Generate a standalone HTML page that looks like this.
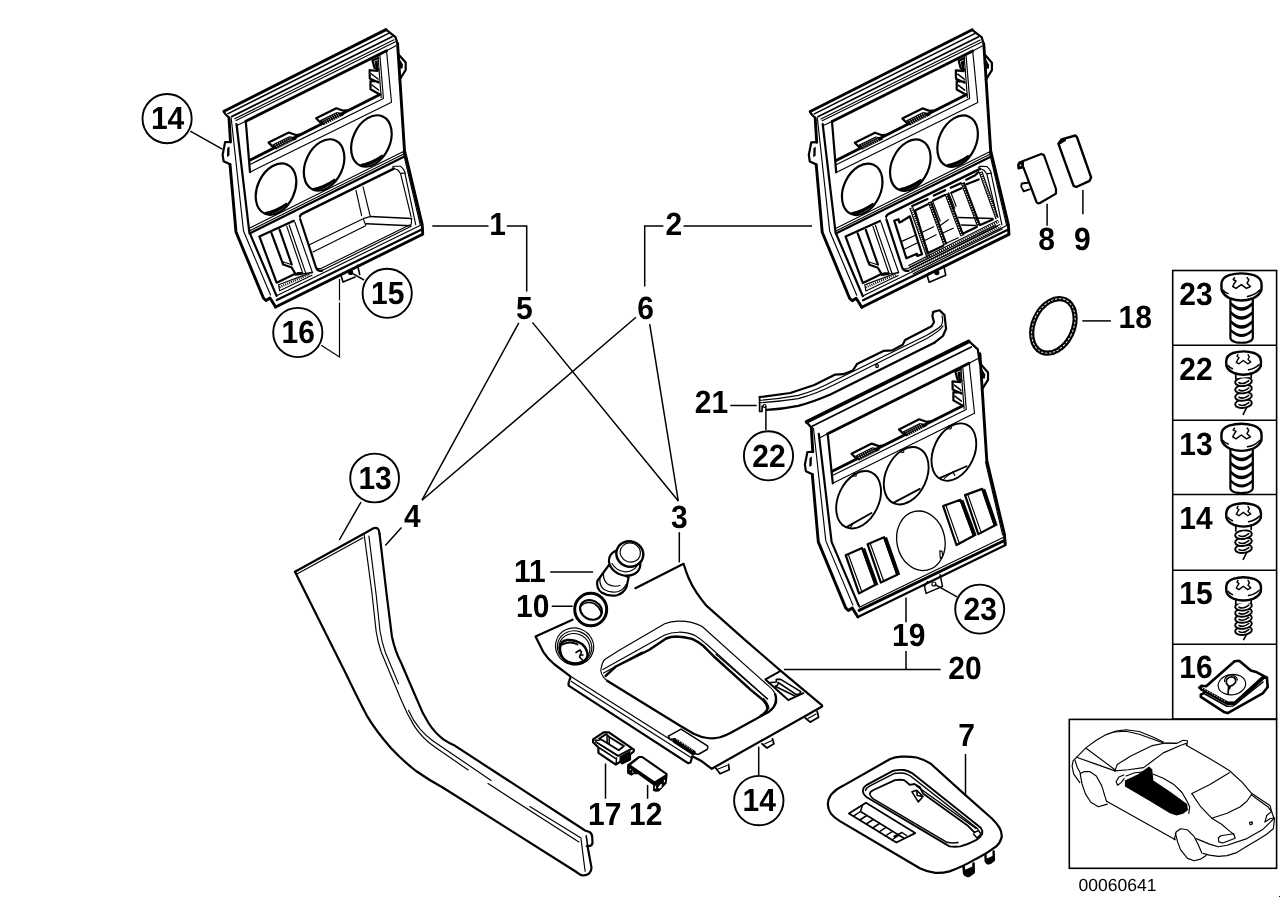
<!DOCTYPE html>
<html>
<head>
<meta charset="utf-8">
<title>Parts diagram</title>
<style>
html,body{margin:0;padding:0;background:#fff;}
body{width:1288px;height:910px;overflow:hidden;font-family:"Liberation Sans",sans-serif;}
svg{display:block;position:absolute;left:0;top:0;}
.k{fill:none;stroke:#000;stroke-width:2.2;stroke-linejoin:round;stroke-linecap:round;}
.h{fill:none;stroke:#000;stroke-width:2.9;stroke-linejoin:round;stroke-linecap:round;}
.n{fill:none;stroke:#000;stroke-width:1.15;stroke-linejoin:round;stroke-linecap:round;}
.m{fill:none;stroke:#000;stroke-width:1.5;stroke-linejoin:round;stroke-linecap:round;}
.w{fill:#fff;}
.b{fill:#000;stroke:none;}
.ld{fill:none;stroke:#000;stroke-width:1.5;}
.cb{fill:#fff;stroke:#000;stroke-width:1.9;}
text{font-family:"Liberation Sans",sans-serif;fill:#000;text-rendering:geometricPrecision;}
.t{font-weight:bold;font-size:30px;text-anchor:middle;}
.s{font-size:17.5px;}
</style>
</head>
<body>
<svg width="1288" height="910" viewBox="0 0 1288 910">
<defs>
<!-- shared panel frame, drawn in panel-1 coordinates -->
<g id="frame">
  <!-- left outer edge -->
  <path class="h" d="M229,118 L230.5,142 M230,164.5 L236,232 L263.4,298 L266,300.5 L270,298 L275.6,307"/>
  <path class="n" d="M231.2,118.3 L243.5,231 L270.5,295"/>
  <path class="k" d="M236.5,124 L249.3,232 L276.6,296"/>
  <!-- left tab -->
  <path class="k" d="M230.5,142 L225.1,142.1 L222.6,154.7 L223.6,161.3 L230.2,164.3"/>
  <path class="b" d="M227.2,148 L229.6,146.5 L229.4,155.6 L227,157 Z"/>
  <!-- right outer edge -->
  <path class="h" d="M397.6,43.8 L404.5,150.6 L422.2,224.7 L422.7,233.8"/>
  <path class="n" d="M403.2,152 L420.3,225"/>
  <!-- right tab -->
  <path class="k" d="M398.1,53.9 L405.7,62.5 L405.7,70 L399.6,79.7"/>
  <path class="b" d="M398.3,57 L403,64.5 L402.5,68.5 L399,68.5 Z"/>
</g>
<g id="rails">
  <path class="n" d="M248.8,228.5 L403.5,151.6 M249.2,231 L403.7,154.1"/>
  <path class="k" d="M249.6,233.4 L403.9,156.7"/>
  <path class="n" d="M276.6,295.8 L421.6,224.7"/>
  <path class="k" d="M276.8,300 L422.7,229"/>
  <path class="h" d="M275.6,307 L422.7,234.2"/>
</g>
<g id="circ3">
  <ellipse class="k" cx="276" cy="189.1" rx="18.5" ry="27" transform="rotate(25 276 189.1)"/>
  <ellipse class="k" cx="324.1" cy="165" rx="18.5" ry="27" transform="rotate(25 324.1 165)"/>
  <ellipse class="k" cx="371.4" cy="141" rx="18.5" ry="27" transform="rotate(25 371.4 141)"/>
</g>
<g id="window">
  <!-- radio opening -->
  <path class="h" d="M245.8,121.3 L386.5,50.8"/>
  <path class="n" d="M236.7,125.6 L245.8,121.3 M386.5,50.8 L396,45.8"/>
  <path class="k" d="M245.8,121.3 L250,172.2"/>
  <path class="h" d="M249.8,160.3 L380,94.5"/>
  <path class="n" d="M250.4,164.3 L383.4,98.4 L379.9,55.4 M381.2,97.5 L378,56.5"/>
  <path class="n" d="M250,172.2 L391.5,102.2 L386.5,50.5"/>
</g>

<g id="topbar">
  <path class="h" d="M224,111.3 L386,29.6"/>
  <path class="k" d="M223.8,111.8 L226,114.8 L229.2,117.8 M386,29.6 L395.5,37.2 L397.6,43.8"/>
  <path class="m" d="M228.1,113.6 L389,33.2"/>
  <path class="k" d="M231.7,116.6 L392,36.8" style="stroke-width:1.8"/>
  <path class="n" d="M234.7,118.8 L394,39.8 M236,120.6 L395.5,41.8"/>
</g>
<g id="wclips">
  <!-- clips on window bottom edge -->
  <path class="k" d="M273.6,147.6 L268.6,142.6 L288.8,132.5 L295.9,135.0 L299.5,134.6"/>
  <path class="b" d="M272.3,144.6 L289.3,136.2 L295.5,137.2 L297.0,139.0 L276.0,149.6 Z"/>
  <path d="M275.0,145.0 L291.0,137.2" stroke="#fff" stroke-width="0.9" stroke-dasharray="1 1.3" fill="none"/>
  <path d="M276.2,146.5 L292.2,138.7" stroke="#fff" stroke-width="0.9" stroke-dasharray="1 1.3" fill="none"/>
  <path d="M277.4,148.1 L293.4,140.3" stroke="#fff" stroke-width="0.9" stroke-dasharray="1 1.3" fill="none"/>
  <path class="k" d="M321.1,123.3 L316.1,118.3 L336.3,108.2 L343.4,110.7 L347.0,110.3"/>
  <path class="b" d="M319.8,120.3 L336.8,111.9 L343.0,112.9 L344.5,114.7 L323.5,125.3 Z"/>
  <path d="M322.5,120.7 L338.5,112.9" stroke="#fff" stroke-width="0.9" stroke-dasharray="1 1.3" fill="none"/>
  <path d="M323.7,122.2 L339.7,114.4" stroke="#fff" stroke-width="0.9" stroke-dasharray="1 1.3" fill="none"/>
  <path d="M324.9,123.8 L340.9,116.0" stroke="#fff" stroke-width="0.9" stroke-dasharray="1 1.3" fill="none"/>
  <!-- louvres on right edge of window -->
  <path class="k" d="M372.5,60.5 L378,58 M372.5,60.5 L374.5,68 L378.5,69.5 M369.6,70.2 L377.5,71 M369.6,70.2 L369.8,78.5 L378.5,82.5 M370.5,81 L378,81.5 M370.5,81 L370.5,89.3 L379,94"/>
  <path class="b" d="M374.5,61.5 L377.8,60 L378,68.8 L375.5,67.5 Z"/>
  <path class="m" d="M371.5,74 L378,79 M372,85 L378.5,90"/>
</g>

<g id="lowbox">
  <path class="b" d="M265,214.6 Q276,215.5 288,204 L286.5,202.5 Q276,209.8 265,212 Z"/>
  <path class="b" d="M313,190.4 Q324,191.5 336,180 L334.5,178.5 Q324,185.8 313,188 Z"/>
  <path class="b" d="M360.5,166.4 Q371.5,167.5 383.5,156 L382,154.5 Q371.5,161.8 360.5,164 Z"/>
  <path class="k" d="M293.8,220.8 L259.4,236.4 L276.6,282.7 L295.8,273.6"/>
  <path class="k" d="M271.5,233.1 L281.6,260.4 L283.2,264.5 L291.7,267.5 L295.8,274.6 M279.6,229.6 L291.7,264.5"/>
  <path class="n" d="M282,261.5 L290.5,264.3"/>
  <path class="n" d="M286.7,226.1 L302.9,273.6 M289.2,225 L305.9,273.6 M294.8,222 L312.5,272.6 M302.9,273.6 L312.5,272.6"/>
  <path class="b" d="M296,273.5 L297.5,272 L303,272 L303.2,274.6 L296.5,275.8 Z"/>
  <path class="n" d="M278.6,284.7 L312,272.1 M279.6,290.8 L312,275.3 M278.6,284.7 L279.6,290.8"/>
  <path d="M279.5,287.2 L310,274" stroke="#000" stroke-width="2.2" stroke-dasharray="1 1.1" fill="none"/>
  <path class="k" d="M300.3,219.5 L316,267.5 Q317.5,271.5 322,270.6"/>
  <path class="k" d="M300,216.3 Q300.5,214.5 302.5,213.6 L393.9,168.6" style="stroke-width:2.4"/>
  <path class="n" d="M300,216.3 L300.3,219.5"/>
  <path class="n" d="M392.4,167.2 Q393,166.2 394.5,166.2 L400.5,166.3 Q402.5,167.5 404.5,171.1 L415.7,224.7"/>
  <path class="n" d="M395.5,169 Q398.5,169.5 400,173 L401.5,173.4 L405.4,173 M400.5,173.3 L411.1,216.6"/>
  <path class="n" d="M322,270.6 L411.2,226.3 M318.5,268.5 Q319.5,269 321.5,268.3 L409.5,225"/>
</g>

<!-- big machine screw (head top at y=273.3, centre x=1241.4) -->
<g id="bigscrew">
  <path class="k w" d="M1230.4,297 L1230.4,338 Q1231,341 1236,342.3 Q1241.5,343.2 1247,342.3 Q1252.2,341 1252.8,338 L1252.8,297 Z"/>
  <path class="b" d="M1231,302 Q1241.5,312.5 1252.3,302 L1252.3,305.5 Q1241.5,316 1231,305.5 Z"/>
  <path class="b" d="M1231,311 Q1241.5,321.5 1252.3,311 L1252.3,314.5 Q1241.5,325 1231,314.5 Z"/>
  <path class="b" d="M1231,320 Q1241.5,330.5 1252.3,320 L1252.3,323.5 Q1241.5,334 1231,323.5 Z"/>
  <path class="b" d="M1231,329 Q1241.5,339 1252.3,329 L1252.3,332 Q1241.5,342 1231,332 Z"/>
  <path class="k w" d="M1221.4,284.5 Q1221.4,278 1229,275.2 Q1241.4,271.5 1253.8,275.2 Q1261.6,278 1261.6,284.5 L1261.4,290 Q1259.5,295.5 1252.5,298.5 Q1241.4,302.5 1230.3,298.5 Q1223.5,295.5 1221.6,290 Z" style="stroke-width:2.4"/>
  <path class="m" d="M1222.9,290 Q1224.5,292.5 1228.2,293.6 M1247.5,296.4 Q1255,295 1259.8,290"/>
  <path class="k" d="M1234.5,277.8 L1233.2,279.5 L1236,281 L1234,283.8 L1232.8,286.5 L1236,288.4 L1241.3,284.6 L1246.5,288.4 L1250.4,286.5 L1247,283.3 L1248.8,280 L1247.2,277.6" style="stroke-width:1.5"/>
</g>
<!-- small self-tapping screw head (top at y=351.3, centre x=1243.5) -->
<g id="smallhead">
  <path class="k w" d="M1226.2,361.5 Q1226.2,355.5 1233,353 Q1243.5,349.8 1254,353 Q1261,355.5 1261,361.5 L1260.8,366 Q1259,370.5 1253,373 Q1243.5,376.5 1234,373 Q1228,370.5 1226.4,366 Z" style="stroke-width:2.4"/>
  <path class="m" d="M1228,365.5 Q1229.5,367.5 1232.5,368.8 M1248.5,369.8 Q1255,368.8 1259.3,364.5"/>
  <path class="k" d="M1238,354.5 L1237,356.3 L1239,357.8 L1237.5,360 L1236.3,362.3 L1239,363.8 L1243.3,360.5 L1247.7,363.8 L1250.8,362 L1248,359.5 L1249.3,356.8 L1248,354.5" style="stroke-width:1.4"/>
</g>
<g id="coil">
  <ellipse class="k w" cx="1243.5" cy="380.6" rx="8.4" ry="4.3" transform="rotate(-7 1243.5 380.6)" style="stroke-width:1.9"/>
  <path class="k" d="M1239,381.6 Q1243.5,384 1248.8,379.6" style="stroke-width:1.6"/>
</g>
</defs>

<!-- ============ PANEL 1 ============ -->
<g id="p1">
  <use href="#frame"/>
  <use href="#rails"/>
  <use href="#circ3"/>
  <use href="#window"/>
  <use href="#topbar"/>
  <use href="#wclips"/>
  <use href="#lowbox"/>
  <path class="n" d="M309.4,244.8 L362.1,219.2 M313,251.9 L365.6,225.7"/>
  <path class="n" d="M356,190.3 L361.6,215.6 M363.1,186.8 L370.2,216.1"/>
  <path class="m" d="M370.2,216.6 L411.6,218.6 M366.6,223.7 L410.1,225.7"/>
  <path class="n" d="M370.2,216.6 L363.1,218.6 L365.6,224.7 L366.6,223.7 M411.6,218.6 L411.2,224.5 L410.1,225.7"/>
  <!-- tab 15 -->
  <path class="k" d="M343,272.6 L341,275.6 L343,282.1 L355.1,277.1 M357.6,265.4 L359.7,274.5" style="stroke-width:1.6"/>
  <circle class="b" cx="350.6" cy="272.4" r="2.6"/>
</g>

<!-- ============ PANEL 2 ============ -->
<g id="p2" transform="translate(586.2,0.2)">
  <use href="#frame"/>
  <use href="#rails"/>
  <use href="#circ3"/>
  <use href="#window"/>
  <use href="#topbar"/>
  <use href="#wclips"/>
  <use href="#lowbox"/>
  <!-- switch modules -->
  <path class="k" d="M323.7,216.1 L315,221.6 L313.2,222.3 L312.3,219 L308,220.5 L320.2,258.1 L330.8,253.6 L331.2,255.8 L335.9,254.1 L323.7,216.2"/>
  <path class="n" d="M323.7,208 L340.9,257.6 M326.5,207 L343.7,256.5"/>
  <path d="M325.1,207.5 L342.3,257" stroke="#000" stroke-width="1.8" stroke-dasharray="1 1.2" fill="none"/>
  <path class="k" d="M341.5,253 L328.7,210.2 L342.2,203.8 M326,205.8 L341.3,198.8"/>
  <path d="M343.6,201.5 L359.2,244.5" stroke="#000" stroke-width="4.2" fill="none"/>
  <path d="M343.6,203 L359.2,246" stroke="#fff" stroke-width="1.2" stroke-dasharray="1.1 1.5" fill="none"/>
  <path class="k" d="M341.5,253 L357,245.5"/>
  <path class="k" d="M347,200.3 L359.1,194.6 M347.6,195.4 L359,190"/>
  <path class="n" d="M346.5,201 L354,221"/>
  <path d="M360.3,193.5 L376.2,235.5" stroke="#000" stroke-width="4.2" fill="none"/>
  <path d="M360.3,195 L376.2,237" stroke="#fff" stroke-width="1.2" stroke-dasharray="1.1 1.5" fill="none"/>
  <path class="n" d="M362.5,192.5 L368.5,208 M364.8,192.7 L370,206"/>
  <path class="k" d="M365.2,192.6 L375.3,188 M364.5,187.5 L374.5,183"/>
  <path d="M376.5,182.5 L392.8,225.5" stroke="#000" stroke-width="4.2" fill="none"/>
  <path d="M376.5,184 L392.8,227" stroke="#fff" stroke-width="1.2" stroke-dasharray="1.1 1.5" fill="none"/>
  <path class="k" d="M377.5,233 L390.5,226.8"/>
  <path class="k" d="M380.3,184 L392.5,179.2 M380,179.5 L389,175 L392,172"/>
  <path class="n" d="M393,172.1 L409.7,218.6 M395.8,171.5 L411.8,217"/>
  <path d="M394.4,171.8 L410.8,217.8" stroke="#000" stroke-width="1.8" stroke-dasharray="1 1.2" fill="none"/>
  <path class="k" d="M394,224.9 L406.6,219.2"/>
  <!-- thin cross lines inside switches -->
  <path class="n" d="M316.1,240.9 L329.8,234.8 M318.1,249 L331.8,242.4 M336,232 L347.5,226.5 M339,240 L350,234.5 M353,226 L362,219.5 M356,233 L367,228 M360,243 L372,237.5"/>
  <path class="m" d="M372.3,217.2 L406.6,218.2 M375.3,224.7 L389.5,225.2"/>
  <!-- bottom dotted strip -->
  <path d="M323.7,266.7 L412.7,221.7 M325.7,271.3 L414.7,226.8" stroke="#000" stroke-width="2.2" stroke-dasharray="1 1.2" fill="none"/>
  <path class="n" d="M322.5,265.3 L411.5,220.3 M324.6,269 L413.6,224.2 M327,273.5 L416,228.7"/>
  <!-- tab -->
  <path class="k" d="M342.5,273 L341,275.6 L343,282.1 L359.5,275 L357.6,265.4" style="stroke-width:1.6"/>
  <circle class="b" cx="350.6" cy="272.4" r="2.6"/>
</g>

<!-- ============ PANEL 19 ============ -->
<g id="p19" transform="translate(582.3,309.9)">
  <use href="#frame"/>
  <path class="h" d="M245.4,123.9 L386.7,53.4"/>
  <path class="n" d="M236.9,128.2 L245.4,123.9 M386.7,53.4 L396.2,48.4"/>
  <path class="k" d="M245.4,123.9 L250.5,173.4"/>
  <path class="h" d="M250,161.3 L380.5,95.8"/>
  <path class="n" d="M250.6,165.3 L384,99.6 L380.6,58.5 M381.8,98.7 L378.7,59.5"/>
  <path class="n" d="M250.5,173.4 L392.2,103.4 L386.9,53.2"/>
  <use href="#wclips" transform="translate(0.6,1.2)"/>
  <!-- top bar -->
  <path d="M224.3,112 L386.3,31.6" stroke="#000" stroke-width="3.8" fill="none" stroke-linecap="round"/>
  <path class="k" d="M229.8,116.4 L389,37" style="stroke-width:1.7"/>
  <path class="k" d="M224,112 L229.2,117.8 M386.3,31 L395.5,39.5 L397.6,54"/>
  <!-- thin circles with chords -->
  <ellipse class="m" style="stroke-width:1.9" cx="276.3" cy="189.9" rx="20.3" ry="30.2" transform="rotate(25 276.3 189.9)"/>
  <ellipse class="m" style="stroke-width:1.9" cx="323.9" cy="165.8" rx="20.3" ry="30.2" transform="rotate(25 323.9 165.8)"/>
  <ellipse class="m" style="stroke-width:1.9" cx="371.6" cy="142.2" rx="20.3" ry="30.2" transform="rotate(25 371.6 142.2)"/>
  <path class="k" d="M264.2,217.2 L289.2,203.1 M311,193 L337.5,179 M357.8,168 L384.3,156.3" style="stroke-width:1.8"/>
  <path class="n" d="M268,217.8 L270.5,214 M362,168.5 L370.5,162 L372.5,165.5"/>
  <circle class="n" cx="272.5" cy="164.8" r="1.6"/><circle class="n" cx="320" cy="141" r="1.6"/><circle class="n" cx="367.5" cy="117.5" r="1.6"/>
  <!-- big thin circle -->
  <ellipse class="n" style="stroke-width:1.3" cx="338.6" cy="230.9" rx="24" ry="30" transform="rotate(-12 338.6 230.9)"/>
  <path class="n" d="M357.5,241 L359.8,241.5 L360.5,246.5 L358,248.5 Z"/>
  <!-- switch holes -->
  <path class="k" d="M263.4,245.3 L279.8,238.2 L293.1,274.9 L276.7,283.5 Z"/><path d="M281.0,238.7 L294.3,275.4" stroke="#000" stroke-width="3.8" fill="none" stroke-linecap="butt"/><path class="n" d="M266.4,245.6 L279.7,282.3"/>
  <path class="k" d="M285.3,234.3 L301.7,227.3 L314.9,264.8 L298.5,272.6 Z"/><path d="M302.9,227.8 L316.1,265.3" stroke="#000" stroke-width="3.8" fill="none" stroke-linecap="butt"/><path class="n" d="M288.3,234.6 L301.5,271.4"/>
  <path class="k" d="M360.9,196.1 L378.1,189.9 L391.4,225.8 L374.2,235.1 Z"/><path d="M379.3,190.4 L392.6,226.3" stroke="#000" stroke-width="3.8" fill="none" stroke-linecap="butt"/><path class="n" d="M363.9,196.4 L377.2,233.9"/>
  <path class="k" d="M382.8,185.2 L399.9,179.0 L412.4,215.6 L396.0,224.2 Z"/><path d="M401.1,179.5 L413.6,216.1" stroke="#000" stroke-width="3.8" fill="none" stroke-linecap="butt"/><path class="n" d="M385.8,185.5 L399.0,223.0"/>
  <!-- bottom rail -->
  <path class="h" d="M276.8,300.5 L422.6,230.4"/>
  <path class="n" d="M277,297.3 L421.8,227.2"/>
  <path class="k" d="M422.6,230.4 L423.3,235.1 L275.6,307"/>
  <!-- tab 23 -->
  <path class="k" d="M345.3,271.8 L342.2,276.5 L343.8,283.5 L360.2,276.5 L357.8,264.8" style="stroke-width:1.5"/>
  <circle class="n" cx="351.6" cy="274.1" r="2"/>
</g>

<!-- ============ TRIM STRIP 21 ============ -->
<g id="p21">
  <path class="k" d="M759.6,397.1 L790.2,393.0 L814.3,385.0 L835.2,374.6 L843.2,374.2 L852.9,370.5 L856.9,364.1 L883.4,350.9 L892.2,350.4 L902.7,344.8 L905.1,340.0 L931.6,326.3 L934.0,322.3 L932.4,315.9 L933.2,311.9 L939.6,310.3 L944.5,315.1 L946.1,328.8 L942.9,336.0 L934.8,342.4"/>
  <path class="k" d="M934.8,342.4 L878.6,370.5 L830.4,394.6 Q812,402.5 798.2,405.9 Q782,409.2 766.9,409.9"/>
  <path class="k" d="M759.6,397.1 L759.6,411.5 L762,411.5 L762.2,406" style="stroke-width:1.7"/>
  <circle class="n" cx="764.6" cy="405.9" r="1.4"/>
  <path class="n" d="M759.6,400.3 Q780,398.8 798.2,395.4 Q815,391 833.6,381 L926.8,335.2 Q938,329 941.3,325.5 Q943.5,321 942,315.9"/>
  <path class="n" d="M759.6,402.8 Q780,401.5 798.2,398.6 Q816,394 835.2,384.2 L926.8,338.4 Q940,331 943,326"/>
  <ellipse class="k" cx="877" cy="365.7" rx="1.2" ry="1.8" style="stroke-width:1.4"/>
</g>

<!-- ============ PART 4 (long trim) ============ -->
<g id="p4">
  <!-- outer (left/lower) edge -->
  <path class="k" d="M295,571.7 L319.3,620.6 L345.7,673.3 Q357,697 366.8,715.6 Q376,731 390.9,748 Q402,760 416,771 Q429,780 443.1,787.7 L576.8,872.3 Q580,875 583.1,875.5 Q587,875.5 589.3,873.4 Q591.8,870.5 591.4,867.1 L587.6,846.5"/>
  <!-- top edge -->
  <path class="k" d="M295,571.7 L364.2,533.5 L373.4,528.2 Q376.5,527.3 377.9,528.7 Q379.2,530 379.5,533.5"/>
  <path class="n" d="M297,574 L363,537.8"/>
  <!-- inner (right/upper) edge -->
  <path class="k" d="M379.5,533.5 L386.6,594.2 L391.9,636.4 Q395,651 401.1,662.8 L417,699.7 Q422,713 428.8,723.5 Q435,733 443.4,739.3 Q449,743 453.6,744.9 L585.1,830.5 L589.5,832 Q592,833.5 592.2,837 L592.5,843 Q592,846 588.3,846.2 L586.8,846"/>
  <path class="k" d="M586.2,835.8 L587.8,846.5" style="stroke-width:1.6"/>
  <!-- inner thin double lines -->
  <path class="n" d="M364.2,534.8 L372.1,594.2 L376.1,631.1 Q378,643 381.3,652.2 L401.1,699.7 Q407,714 414.3,726.1 Q422,738 434.8,747 L468.2,770"/>
  <path class="n" d="M368.9,536.1 L376.1,594.2 L380,631 Q382,643 385.3,652.2 L398.5,683.9 M408.6,710.4 Q413,720.5 420.1,729.2 Q426,736 432.7,740.7 L491.1,780.4"/>
  <path class="n" d="M488,783.6 L578.9,842 M529.8,806.5 L581,837.9"/>
  <path class="n" d="M581,838.9 L585.1,871.3"/>
</g>

<!-- ============ PART 3 (console) ============ -->
<g id="p3">
  <!-- outline -->
  <path class="k" d="M572.5,619.7 L535.5,636.4 L543.2,651.8 Q548,659 554,664 L570.7,676.6 L568.6,682.8 L568.6,685.6 L688.1,763.2 L690.5,762.5 L692.3,756.2 L701.9,761.3 L711.7,768.8 L822.1,706.5 L822.1,705.3 L780.2,670.4 L743.8,638.9 L706.1,605.4 Q701,599 696.9,593.1 Q692,586 688.5,577.7 Q686,572 683.6,563.8 L635.4,588.2"/>
  <path class="n" d="M572.1,677.2 L692.3,753.4 M571.4,681.4 L690.9,757.6"/>
  <!-- opening -->
  <path class="n" d="M764.8,714.4 Q770,712 773.2,707.4 Q776,702 775.3,696.2 Q775,691 769,686.4 L701.9,626.3 Q692,621 678.7,621.1 Q671,621 664.7,623.8 L619.7,650 L604.7,659.5 Q601.5,663 600.8,671 Q602,677 607.1,680.7"/>
  <path class="n" d="M767.6,699 L706.1,643.8 Q700,638 694.9,635.4 Q686,632 678.7,632.2 Q671,632.5 664.7,635 L637.8,650 L602.9,669.6 M642,652.1 L603.6,673.1"/>
  <path class="k" d="M605.7,675.9 L615.8,666.5 L649,650 L666.1,638.5 Q671,636.5 675.9,636.4 Q684,636.5 692.1,638.9 Q698,641.5 703.3,645.9 L713.1,655.7 L750.8,689.9 L763.4,700.4 Q767,704 767.6,708.8 Q766,713 760.6,715.8" style="stroke-width:2.5"/>
  <path class="n" d="M715.9,654.3 L767.6,699 M763.4,698.4 Q768,703 769,708.2"/>
  <path class="k" d="M607.1,680.7 L679.7,725.5 L693.7,733.8 Q701,737.5 707.7,738 Q714,738.8 720,737.3 Q725,735.8 729.9,733.3 L769,711.7 Q774,708 776,702.6 Q776.5,698 775.3,694.2"/>
  <!-- recess right -->
  <path class="k" style="stroke-width:2" d="M779.4,671.6 L765.4,679.4 L788.2,700.1 L803.3,693.2"/>
  <path class="k" style="stroke-width:1.6" d="M769,682.8 L776.3,682 L776.3,679.4 L780.7,679.4 L800.8,691.6 L799.5,694.1 L796,694.3 L778.2,682.5 L777.6,685.3 L775.1,686.3 L795,696"/>
  <!-- recess bottom -->
  <path class="m" d="M668.4,736.1 L681,729.1 L707.5,745.9 Q708.5,748 707,749.5 L699,754 Q697,754.5 695,753.5"/>
  <path class="m" d="M668.4,736.1 L670,739.5 L674.5,738.8"/>
  <path d="M675.2,740.8 L693.2,752.6" stroke="#000" stroke-width="5" stroke-linecap="round" fill="none"/>
  <path d="M676.5,739.5 L693,750.5" stroke="#fff" stroke-width="0.9" stroke-dasharray="1.5 1.5" fill="none"/>
  <!-- tabs -->
  <path class="k" d="M715.9,768.3 L720.1,773.8 L729.2,769.7 L728.5,764.5 M762,743.8 L766.9,748 L773.9,743.8 L772.5,738.9 M805.3,718 L810.2,722.1 L818.6,717.2 L817.2,711.5" style="stroke-width:1.8"/>
  <path class="n" d="M718,769 L727,765.5 M764.5,744 L772,740.5 M808,718.5 L816,714"/>
  <!-- socket -->
  <ellipse class="n" cx="574.6" cy="646.4" rx="19.2" ry="18.3" transform="rotate(20 574.6 646.4)"/>
  <ellipse class="n" cx="574.6" cy="647.2" rx="17.3" ry="16.3" transform="rotate(20 574.6 647.2)"/>
  <ellipse class="n" cx="574.4" cy="648.2" rx="15.6" ry="14.5" transform="rotate(20 574.4 648.2)"/>
  <path class="k" d="M560,648 Q560.5,641 567,640 Q575,639.5 582,644 Q588,649.5 587.5,656 Q586,662.5 579,664 Q570,665 564,659.5 Q560,655 560,648 Z" style="stroke-width:2.4"/>
  <path class="k" d="M562.5,644.5 Q570,640.5 577.5,644.5" style="stroke-width:1.8"/>
  <path class="k" d="M576,652.5 L580,650 L581.5,652 L579.5,657 L582.5,660 M580,655 L583,655" style="stroke-width:1.6"/>
</g>
<!-- ring 10 -->
<g id="p10">
  <ellipse class="w" cx="590.7" cy="609.5" rx="16.8" ry="17.1"/>
  <ellipse cx="590.7" cy="609.5" rx="16" ry="16.3" fill="none" stroke="#000" stroke-width="3"/>
  <path class="m" d="M575.5,604 Q573.5,611 576.5,617.5 Q581,625 590,626.3"/>
  <ellipse class="k" cx="591" cy="609.9" rx="11.3" ry="9.4" transform="rotate(28 591 609.9)"/>
  <path class="m" d="M581,606 Q586,600.5 594,603.5 Q600,607 601.5,614"/>
</g>
<!-- plug 11 -->
<g id="p11">
  <path class="k w" d="M608.8,565.2 L597.3,581 Q596,588 601.5,592.5 Q609,597 617,595.2 Q624,593 626.5,587 L628.6,577.5 Z"/>
  <path class="n" d="M600,578.5 Q599,585 604,589.5 Q611,593.5 618.5,591.5 Q624,589.5 626,584.5 M603.5,573.5 Q603,580 607.5,584 Q613.5,587.5 620,585.5"/>
  <ellipse class="k w" cx="624.6" cy="562.6" rx="16" ry="12.6" transform="rotate(20 624.6 562.6)"/>
  <path class="n" d="M612,563.5 Q616,570.5 624.5,571.8 Q633,572 637.5,565.5"/>
  <ellipse class="k w" cx="629.8" cy="554" rx="13.6" ry="12.6" transform="rotate(20 629.8 554)" style="stroke-width:2.4"/>
  <ellipse class="n" cx="630.3" cy="552.5" rx="10.3" ry="9.5" transform="rotate(20 630.3 552.5)"/>
  <path class="n" d="M617.5,558.5 Q620,565.5 628,567 Q636,567 640.5,561"/>
</g>

<!-- ============ PARTS 17, 12 ============ -->
<g id="p17">
  <path class="k w" d="M593.1,739.4 L603.6,732.4 L608.9,732.4 L633.9,749.6 L633.5,751.7 L630,754.5 L630,759.5 L622.3,763.3 L620.2,761.6 L615.9,764.7 L598.4,752.8 L598.4,747.5 L593.1,742.2 Z"/>
  <path class="b" d="M619.5,756.5 L630.5,750.5 L630,759.5 L622.3,763.3 L619.5,761 Z"/>
  <path class="k" d="M599.1,738.7 L606.1,734.1 L609.3,737 L624,746.1 L618.8,750.3 L602.9,740.5 Z" style="stroke-width:1.9"/>
  <path class="k" d="M596,742 L618.1,755.9 L631.5,748.8" style="stroke-width:2"/>
  <path class="m" d="M599.5,748 L616.3,758.8 M616.5,758 L616.2,763.5 M607,736.5 L607.2,743 M609.2,737.5 L609.3,744.2 M595,740.2 L599.2,740.2"/>
</g>
<g id="p12">
  <path class="b" d="M627.1,764.6 L638.6,756 L642.5,756 L667.7,773.4 L667.5,776.4 L666.6,783.5 L659,791.5 L655.7,791.8 L652.9,790.7 L653.2,785.2 L638.1,774.2 L633.7,774.2 L631.5,775.8 L627.1,773.6 Z" stroke="#000" stroke-width="1.4" stroke-linejoin="round"/>
  <path class="w" d="M630.9,765.1 L639.7,758 L641.8,758 L665.5,774.5 L654.6,781.3 Z"/>
  <path class="w" d="M657.8,787.8 L660.8,784 L661.8,784 L661.6,787.2 L659.6,788.6 Z M663.8,780.5 L665,779.6 L665,781.8 L663.9,782.4 Z M654.7,787.2 L655.7,785 L656.2,788.7 L655,788.5 Z"/>
  <path d="M629.8,769.2 L631,769.8 M632,771.5 L633.6,772.8" stroke="#fff" stroke-width="1" fill="none"/>
</g>

<!-- ============ PART 7 ============ -->
<g id="p7">
  <!-- pegs -->
  <path class="k" d="M963.5,865.1 L964.2,873.5 Q966,877 969.5,875.5 L973.7,872.5 L973.5,863.5" style="stroke-width:2.6"/>
  <path class="b" d="M964.5,870 L973.5,866 L973.5,873 L967,876.5 L964.5,874.5 Z"/>
  <path class="k" d="M985.4,854.2 L985.8,861.5 Q987.5,864.5 990.5,862.8 L993.9,860 L993.6,851.5" style="stroke-width:2.4"/>
  <path class="b" d="M986,859 L993.8,855.2 L993.8,860.5 L988.5,863.8 L986,862.5 Z"/>
  <!-- outline -->
  <path class="k w" d="M827.8,804.3 Q828,799 830.9,794.9 Q836,789 843.4,785.6 L890.2,759 Q895,757 901.1,756.7 Q909,756.3 916.7,757.5 Q924,759.5 930.8,763.7 L963.5,793.4 L991.6,818.3 Q996.5,823 999.4,827.7 Q1002,832 1001.7,837 Q1000.5,842.5 996.3,846.4 Q987,853.5 976,858.9 Q962,867 949.5,871.4 Q942,873.3 935.4,872.9 Q927,871.8 919.8,868.2 L840.3,821.4 Q834,817.5 830.9,813.6 Q828,809.5 827.8,804.3 Z"/>
  <!-- opening -->
  <path class="k" d="M862.9,790.2 Q863.5,787 866.8,784.8 L893.3,770.7 Q898.5,769.5 904.2,770 Q908.5,771 912,773.1 L980.7,827.7 Q982.8,830.5 982.2,833.9 Q980.5,837.5 976,840.2 Q968,844.5 960.4,846.4 Q955,847.2 949.5,846.4 L866.8,797.3 Q862.5,794 862.9,790.2 Z" style="stroke-width:1.9"/>
  <path class="m" d="M865.5,790.5 Q866,788 869,786.3 L894,773.6 Q899,772.5 904,773.2 Q907.5,774 910.5,776 L978,829"/>
  <path class="k" d="M869.9,794.5 Q869.5,792 873,790.2 L894.9,780.1 Q899.5,779.4 904.2,780.1 L909.7,784.8 L914.4,784 L919.8,787.1 L923,793.4 L968.2,826.1 L974.4,832.4" style="stroke-width:1.8"/>
  <path class="m" d="M916.5,786 L976,828.5 M974.4,832.4 L978.5,830.5 L981,834 L977,838 L973.5,834"/>
  <path class="k" d="M912,791.8 L916.7,790.2 L923,796.5 L918.3,801.9 Z M916.7,790.2 L917.2,795.5 L923,796.5" style="stroke-width:1.6"/>
  <path class="k" d="M870.5,795.8 L872.5,798.3 L947,842.3 Q953,843.5 958,842.5" style="stroke-width:1.5"/>
  <!-- indicator strip -->
  <path class="k" d="M848.9,813.6 L866,802.7 L915.2,833.1 L896.4,842.5 Z" style="stroke-width:1.8"/>
  <path class="m" d="M853.5,816.2 L860.5,811.5 L903.5,838 M860.5,811.5 L862.5,805"/>
  <path class="m" d="M859.8,820 L866.8,815.5 M866.2,824 L873.2,819.5 M872.6,828 L879.6,823.4 M879,832 L886,827.3 M885.4,836 L892.4,831.3 M891.8,840 L898.8,835.2 M894,836.5 L902,832.5 L906.5,835.5"/>
</g>

<!-- ============ PARTS 8, 9, 18 ============ -->
<g id="p8">
  <path class="k" d="M1027.9,182.7 L1021.7,183.5 L1021.3,186.6 L1023.7,191.3 L1029.5,189.4" style="stroke-width:1.9"/>
  <path class="k w" d="M1018.5,168.5 L1018.2,164.8 L1019.4,162.4 L1041.2,153.9 L1043.9,155 L1056,189 L1056,193.6 L1039.5,203.3 Q1037.5,203.8 1036.5,202 L1023.3,167.1 Z"/>
  <path class="b" d="M1018.2,164.8 L1019.4,162.4 L1024,160.6 L1024,166.5 L1022.5,168.3 L1018.5,169 Z"/>
  <rect class="w" x="1019.8" y="164.6" width="1.4" height="1.4"/>
  <rect class="w" x="1022.6" y="185" width="1.2" height="3.5"/>
</g>
<g id="p9">
  <path class="k w" d="M1058.4,143.7 L1061.5,139.4 L1075.5,135.5 L1077.1,137.5 L1091.1,177.3 L1089.6,180.8 L1076.3,187 L1073.6,185.8 Z" style="stroke-width:2.4"/>
  <path class="b" d="M1058.4,143.7 L1061.5,139.4 L1066,138.2 L1066,140.8 L1060,144.5 Z"/>
</g>
<g id="p18">
  <ellipse cx="1053.4" cy="325.9" rx="19.9" ry="28.6" transform="rotate(25 1053.4 325.9)" fill="none" stroke="#000" stroke-width="5.2"/>
  <ellipse cx="1053.4" cy="325.9" rx="19.9" ry="28.6" transform="rotate(25 1053.4 325.9)" fill="none" stroke="#fff" stroke-width="0.9" stroke-dasharray="2.5 1.5"/>
</g>

<!-- ============ LEGEND ICONS ============ -->
<g id="legend-icons">
  <use href="#bigscrew"/>
  <use href="#bigscrew" transform="translate(0,150.4)"/>
  <g transform="translate(0,0.0)"><path class="k" d="M1246.5,407.8 L1243.2,414.3" style="stroke-width:1.6"/><use href="#coil" transform="translate(0,23.0)"/><use href="#coil" transform="translate(0,15.7)"/><use href="#coil" transform="translate(0,8.4)"/><use href="#coil" transform="translate(0,1.1)"/><path class="w" d="M1236,368 L1251,368 L1251,377 L1236,378 Z"/><path class="k" d="M1235.8,372 L1235.8,379 M1251.2,372 L1251.2,377.5" style="stroke-width:1.7"/><use href="#smallhead"/></g>
  <g transform="translate(0,151.9)"><path class="k" d="M1246.5,400.9 L1243.2,407.4" style="stroke-width:1.6"/><use href="#coil" transform="translate(0,16.1)"/><use href="#coil" transform="translate(0,9.1)"/><use href="#coil" transform="translate(0,2.1)"/><path class="w" d="M1236,368 L1251,368 L1251,377 L1236,378 Z"/><path class="k" d="M1235.8,372 L1235.8,379 M1251.2,372 L1251.2,377.5" style="stroke-width:1.7"/><use href="#smallhead"/></g>
  <g transform="translate(0,225.8)"><path class="k" d="M1246.5,408.8 L1243.6,413.8" style="stroke-width:1.6"/><use href="#coil" transform="translate(0,24.2)"/><use href="#coil" transform="translate(0,18.1)"/><use href="#coil" transform="translate(0,12.0)"/><use href="#coil" transform="translate(0,5.9)"/><use href="#coil" transform="translate(0,-0.2)"/><path class="w" d="M1236,368 L1251,368 L1251,377 L1236,378 Z"/><path class="k" d="M1235.8,372 L1235.8,379 M1251.2,372 L1251.2,377.5" style="stroke-width:1.7"/><use href="#smallhead"/></g>
  <!-- clip 16 -->
  <g id="clip16">
    <path class="k" d="M1203.8,693.1 L1200.8,694.6 L1200.8,696.9 L1224.6,712.3 L1227.7,713.1 L1263.1,693.1 L1267.7,686.9 L1266.9,677.7" style="stroke-width:2.6"/>
    <path class="k w" d="M1199.2,687.7 L1201.5,685.8 L1206.2,686.2 L1234.6,661.2 L1239.2,660.8 L1250.8,670.4 L1256.9,672.3 L1266.9,677.7 L1262.3,677.7 L1234.6,703.1 L1227.7,703.1 Z" style="stroke-width:2.6"/>
    <path d="M1200.5,688.4 L1227.7,703.3 L1234.8,703.3 L1263,677.8" stroke="#000" stroke-width="3.6" fill="none" stroke-linejoin="round"/>
    <path d="M1202,688 L1226,701.8" stroke="#fff" stroke-width="1" stroke-dasharray="1.2 1.6" fill="none"/>
    <path class="k" d="M1204,693.5 L1226.9,706.2 L1233,706 L1263,682" style="stroke-width:1.6"/>
    <ellipse class="n" cx="1231.9" cy="684.6" rx="13.8" ry="10.2" transform="rotate(-8 1231.9 684.6)"/>
    <path class="k" d="M1228.1,694 L1228.6,686 Q1225,683 1226.8,679.3 Q1229.5,676 1233.5,677.3 Q1236.8,679.3 1235.3,682.8 Q1233.3,685.5 1230.3,686.2 L1229.6,688.6" style="stroke-width:1.7"/>
    <path class="n" d="M1224.5,681.5 Q1224.5,676.5 1230,675 Q1236.5,675 1237.5,680"/>
  </g>
</g>

<!-- ============ CAR THUMBNAIL ============ -->
<g id="car">
  <path class="n" d="M1076.5,757.3 L1086.4,747.4 L1096.3,740.3 L1106.2,734.6 L1116.1,731.1 L1126.0,729.8 L1139.2,731.5 L1152.3,736.8 L1163.3,741.9"/>
  <path class="n" d="M1113.9,732.0 L1126.0,731.3 L1139.2,734.2 L1154.5,739.7 L1163.3,743.0 L1176.5,743.4"/>
  <path class="n" d="M1076.5,757.3 L1095.2,763.9 L1115.0,770.9"/>
  <path class="n" d="M1086.4,748.5 L1115.0,769.8"/>
  <path class="n" d="M1076.5,757.3 L1073.2,760.6 L1072.1,766.1 L1073.6,773.8 L1079.8,782.6"/>
  <path class="n" d="M1075.0,760.1 L1077.2,767.2 L1080.2,772.7"/>
  <path class="n" d="M1080.2,773.8 L1084.2,771.6 L1089.7,771.6 L1096.3,776.0 L1101.8,785.9 L1105.1,796.9 L1106.6,801.2"/>
  <path class="n" d="M1080.2,773.8 L1082.0,783.7 L1085.3,793.6 L1090.8,802.3 L1098.5,806.7 L1107.3,804.1"/>
  <path class="n" d="M1106.6,801.2 L1175.4,839.7"/>
  <path class="n" d="M1115.0,770.9 L1117.2,764.5 L1130.4,756.2 L1152.3,745.6 L1165.5,743.0 L1176.5,743.4"/>
  <path class="n" d="M1115.0,770.9 L1128.2,769.8 L1143.6,767.6 L1150.1,762.8 L1163.3,752.9 L1180.9,745.2 L1186.4,743.4"/>
  <path class="n" d="M1176.5,743.4 L1183.1,740.3 L1187.5,740.8 L1187.1,744.5 L1186.4,745.2"/>
  <path class="n" d="M1186.4,745.2 L1209.5,758.4 L1229.3,770.5 L1242.5,782.6 L1251.3,793.1 L1262.3,800.6 L1270.0,805.6 L1272.2,813.3 L1274.4,819.9 L1273.3,828.7 L1266.7,834.2 L1257.9,839.7 L1246.9,846.3 L1235.9,852.9 L1227.1,855.6 L1218.3,856.4 L1209.5,855.1 L1202.9,853.4"/>
  <path class="n" d="M1174.3,839.7 L1176.1,832.0 L1180.5,828.7 L1187.5,829.8 L1194.1,836.4 L1198.5,845.2 L1201.8,852.9"/>
  <path class="n" d="M1175.4,833.1 L1177.6,841.9 L1180.5,849.6 L1187.5,858.4 L1194.1,860.8 L1200.7,859.1 L1206.2,855.6"/>
  <path class="n" d="M1123.8,774.9 L1118.9,777.1 L1116.1,781.5 L1117.6,785.2 L1121.1,782.6 L1124.2,778.6"/>
  <path class="n" d="M1153.4,774.2 L1163.3,778.2 L1174.3,784.8 L1182.0,792.5 L1186.4,800.1 L1189.7,806.7 L1188.8,813.3"/>
  <path class="n" d="M1126.0,776.0 L1134.8,772.7 L1146.9,771.6"/>
  <path class="n" d="M1191.9,793.6 L1209.5,784.8 L1229.3,772.7"/>
  <path class="n" d="M1191.9,793.6 L1200.7,806.7 L1211.7,818.2 L1227.1,813.3 L1240.3,806.7 L1246.9,801.2 L1251.3,794.7"/>
  <path class="n" d="M1211.7,818.2 L1221.6,824.3 L1229.3,830.9 L1233.7,834.2"/>
  <path class="n" d="M1251.3,794.7 L1260.1,801.2 L1267.8,806.7 L1271.5,811.6"/>
  <path class="n" d="M1271.5,811.6 L1266.7,815.5 L1264.9,822.1 L1270.0,818.8 L1274.4,817.7"/>
  <path class="n" d="M1196.3,838.6 L1209.5,844.1 L1218.3,846.8 L1227.1,845.2 L1246.9,838.6 L1262.3,829.8 L1274.4,818.2"/>
  <path class="n" d="M1218.3,838.0 L1220.9,835.8 L1233.7,833.8 L1235.2,838.2 L1222.7,843.0 L1218.8,841.9 L1218.3,838.0"/>
  <path class="b" d="M1124.9,780.4 L1138.1,774.2 L1149.1,766.5 L1152.3,769.4 L1153.4,780.4 L1169.9,791.4 L1187.1,804.1 L1188.0,810.0 L1183.1,813.8 L1176.5,815.5 L1169.9,813.3 L1148.0,800.1 L1124.9,786.5 Z"/>
  <path class="n" d="M1249.5,822.6 L1252.0,821.7 L1252.4,823.9 L1250.2,824.8 Z"/>
</g>

<!-- ============ LEADERS / LABELS ============ -->
<g id="leaders" class="ld">
  <path d="M432.3,226 L488.5,226 M506.8,226 L526.7,226 L526.7,291.4"/>
  <path d="M644.7,286.4 L644.7,226 L663.4,226 M683.5,226 L812,226"/>
  <path d="M518.8,322.9 L422,500.2 M532.4,322.4 L678.3,501"/>
  <path d="M636,317.2 L422,500.2 M649.7,324.2 L678.3,501"/>
  <path d="M679.3,532.2 L679.3,562.4"/>
  <path d="M401.5,527.5 L385.3,545.6"/>
  <path d="M361,502 L339.3,540"/>
  <path d="M550.2,572 L593.1,572 M551.7,606.2 L572.6,606.2"/>
  <path d="M190.3,131.1 L222.3,149.2"/>
  <path d="M351.5,272.8 L364,280"/>
  <path d="M339.5,279 L339.5,300.5 M339.5,302.5 L339.5,356.9 L321.2,345.3" style="stroke-width:1.2"/>
  <path d="M730.3,405.4 L756.7,405.4 M765.9,406.4 L765.9,430"/>
  <path d="M957.1,596.9 L934.7,584.4"/>
  <path d="M906,597.5 L906,622.3 M906,650.9 L906,669.4 M784,669.4 L940.6,669.4"/>
  <path d="M605.5,763.4 L605.5,798.8 M647.6,785 L647.6,798.8"/>
  <path d="M758.7,746.6 L758.7,775"/>
  <path d="M965.5,754 L965.5,796.2"/>
  <path d="M1047.1,203.7 L1047.1,225.7 M1082.9,190 L1082.9,214.3"/>
  <path d="M1082.3,320.9 L1110.9,320.9"/>
</g>
<g id="callouts">
  <circle class="cb" cx="167.1" cy="118.6" r="24.6"/>
  <circle class="cb" cx="387.2" cy="293.3" r="24.6"/>
  <circle class="cb" cx="297.8" cy="332.5" r="24.6"/>
  <circle class="cb" cx="374.6" cy="478" r="24.4"/>
  <circle class="cb" cx="768.5" cy="455.8" r="24.6"/>
  <circle class="cb" cx="979.7" cy="609.1" r="24.5"/>
  <circle class="cb" cx="758.8" cy="800.6" r="24.7"/>
</g>
<g id="labels" class="t" transform="scale(1,1.07)" style="filter:opacity(0.999)">
  <text x="167.6" y="120.9">14</text>
  <text x="387.7" y="284.1">15</text>
  <text x="298.3" y="320.7">16</text>
  <text x="375.1" y="456.7">13</text>
  <text x="769" y="436.0">22</text>
  <text x="980.2" y="579.3">23</text>
  <text x="759.3" y="758.2">14</text>
  <text x="497.5" y="219.2">1</text>
  <text x="673.9" y="219.2">2</text>
  <text x="524.3" y="298.6">5</text>
  <text x="645.7" y="298.6">6</text>
  <text x="412.4" y="492.1">4</text>
  <text x="679.3" y="493.0">3</text>
  <text x="529.8" y="544.4">11</text>
  <text x="532.7" y="576.2">10</text>
  <text x="711.5" y="386.4">21</text>
  <text x="908.8" y="603.3">19</text>
  <text x="964.9" y="634.6">20</text>
  <text x="604.7" y="771.3">17</text>
  <text x="645.7" y="771.3">12</text>
  <text x="966.6" y="697.0">7</text>
  <text x="1046.6" y="233.9">8</text>
  <text x="1082.4" y="233.9">9</text>
  <text x="1135.2" y="306.7">18</text>
  <text x="1196" y="284.9">23</text>
  <text x="1196" y="355.0">22</text>
  <text x="1196" y="425.1">13</text>
  <text x="1196" y="494.3">14</text>
  <text x="1196" y="564.4">15</text>
  <text x="1196" y="634.0">16</text>
</g>
<text class="s" x="1078.6" y="891" style="filter:opacity(0.999)">00060641</text>
<rect x="1279" y="896" width="1" height="1" fill="#000"/>
<!-- legend frame -->
<g class="ld" style="stroke-width:1.6">
  <rect x="1172.7" y="270.5" width="103.9" height="448.5"/>
  <path d="M1172.7,345.2 H1276.6 M1172.7,420.2 H1276.6 M1172.7,494.5 H1276.6 M1172.7,570.3 H1276.6 M1172.7,644.2 H1276.6"/>
  <rect x="1069.3" y="719.4" width="207.3" height="148.9"/>
</g>

</svg>
</body>
</html>
